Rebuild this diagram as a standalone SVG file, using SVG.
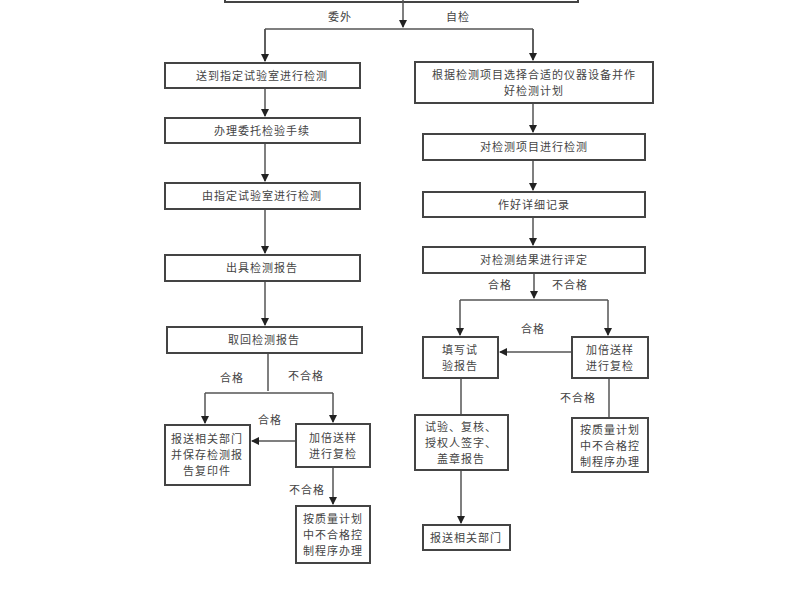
<svg xmlns="http://www.w3.org/2000/svg" width="800" height="600" viewBox="0 0 800 600">
<defs><marker id="a" markerWidth="8" markerHeight="8" refX="7" refY="4" orient="auto" markerUnits="userSpaceOnUse"><path d="M0,0L8,4L0,8z" fill="#222"/></marker></defs>
<style>
rect{fill:#fff;stroke:#444;stroke-width:2}
text{font-family:"Noto Sans CJK SC",sans-serif;font-size:11px;fill:#444;text-anchor:middle;letter-spacing:1px}
.c{fill:none;stroke:#555;stroke-width:1.5}
</style>
<rect width="800" height="600" style="fill:#fff;stroke:none"/>
<g id="top"><rect x="225" y="-30" width="353" height="32"/></g>
<g id="connectors">
<path class="c" d="M403,0V27" marker-end="url(#a)"/>
<path class="c" d="M265,29H533M265,29V61M533,29V60" />
<path class="c" d="M265,29V61" marker-end="url(#a)"/><path class="c" d="M533,29V60" marker-end="url(#a)"/>
<path class="c" d="M265,88V116" marker-end="url(#a)"/>
<path class="c" d="M265,143V181" marker-end="url(#a)"/>
<path class="c" d="M265,209V253" marker-end="url(#a)"/>
<path class="c" d="M265,281V325" marker-end="url(#a)"/>
<path class="c" d="M268,353V391"/>
<path class="c" d="M205,393H333"/>
<path class="c" d="M205,393V423" marker-end="url(#a)"/>
<path class="c" d="M333,393V422" marker-end="url(#a)"/>
<path class="c" d="M296,441H252" marker-end="url(#a)"/>
<path class="c" d="M333,467V504" marker-end="url(#a)"/>
<path class="c" d="M533,103V132" marker-end="url(#a)"/>
<path class="c" d="M533,160V190" marker-end="url(#a)"/>
<path class="c" d="M533,217V245" marker-end="url(#a)"/>
<path class="c" d="M534,273V298" marker-end="url(#a)"/>
<path class="c" d="M460,300H608"/>
<path class="c" d="M460,300V335" marker-end="url(#a)"/>
<path class="c" d="M608,300V335" marker-end="url(#a)"/>
<path class="c" d="M572,352H500" marker-end="url(#a)"/>
<path class="c" d="M461,378V415"/>
<path class="c" d="M461,470V523" marker-end="url(#a)"/>
<path class="c" d="M609,378V418"/>
</g>
<g id="labels">
<text x="340" y="21">委外</text><text x="458" y="21">自检</text>
<text x="232" y="382">合格</text><text x="306" y="380">不合格</text>
<text x="270" y="424">合格</text><text x="307" y="494">不合格</text>
<text x="500" y="289">合格</text><text x="570" y="289">不合格</text>
<text x="533" y="333">合格</text><text x="578" y="402">不合格</text>
</g>
<g id="b1"><rect x="165" y="63" width="195" height="25"/><text x="262" y="80">送到指定试验室进行检测</text></g>
<g id="b2"><rect x="165" y="118" width="195" height="25"/><text x="262" y="135">办理委托检验手续</text></g>
<g id="b3"><rect x="165" y="183" width="195" height="26"/><text x="262" y="200">由指定试验室进行检测</text></g>
<g id="b4"><rect x="165" y="255" width="195" height="26"/><text x="262" y="272">出具检测报告</text></g>
<g id="b5"><rect x="167" y="327" width="195" height="26"/><text x="264" y="344">取回检测报告</text></g>
<g id="b6"><rect x="165" y="425" width="85" height="60"/><text x="207" y="443">报送相关部门</text><text x="207" y="459">并保存检测报</text><text x="207" y="475">告复印件</text></g>
<g id="b7"><rect x="296" y="424" width="74" height="43"/><text x="333" y="442">加倍送样</text><text x="333" y="458">进行复检</text></g>
<g id="b8"><rect x="296" y="506" width="74" height="57"/><text x="333" y="523">按质量计划</text><text x="333" y="539">中不合格控</text><text x="333" y="555">制程序办理</text></g>
<g id="r1"><rect x="415" y="62" width="238" height="41"/><text x="534" y="79">根据检测项目选择合适的仪器设备并作</text><text x="534" y="95">好检测计划</text></g>
<g id="r2"><rect x="423" y="134" width="222" height="26"/><text x="534" y="151">对检测项目进行检测</text></g>
<g id="r3"><rect x="423" y="192" width="222" height="25"/><text x="534" y="209">作好详细记录</text></g>
<g id="r4"><rect x="423" y="247" width="222" height="26"/><text x="534" y="264">对检测结果进行评定</text></g>
<g id="r5"><rect x="423" y="337" width="75" height="41"/><text x="460" y="354">填写试</text><text x="460" y="370">验报告</text></g>
<g id="r6"><rect x="572" y="337" width="76" height="41"/><text x="610" y="354">加倍送样</text><text x="610" y="370">进行复检</text></g>
<g id="r7"><rect x="415" y="415" width="93" height="55"/><text x="461" y="431">试验、复核、</text><text x="461" y="447">授权人签字、</text><text x="461" y="463">盖章报告</text></g>
<g id="r8"><rect x="423" y="525" width="87" height="25"/><text x="466" y="542">报送相关部门</text></g>
<g id="r9"><rect x="572" y="418" width="76" height="54"/><text x="610" y="434">按质量计划</text><text x="610" y="450">中不合格控</text><text x="610" y="466">制程序办理</text></g>
</svg>
